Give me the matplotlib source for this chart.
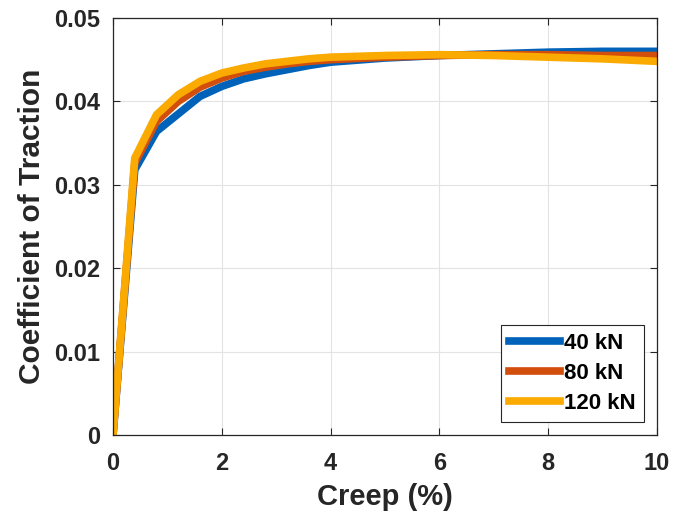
import matplotlib
matplotlib.use("Agg")
import matplotlib.pyplot as plt

# ── data ───────────────────────────────────────────────────────────────────────
creep = [0, 0.4, 0.8, 1.2, 1.6, 2.0, 2.4, 2.8, 3.2, 3.6, 4.0, 5, 6, 7, 8, 9, 10]

mu_40kn  = [0, 0.0318, 0.0364, 0.0385, 0.0406, 0.0418, 0.0427, 0.0433, 0.0438,
            0.0443, 0.0447, 0.0452, 0.0455, 0.0457, 0.0459, 0.0460, 0.0460]
mu_80kn  = [0, 0.0326, 0.0376, 0.0400, 0.0417, 0.0428, 0.0436, 0.0441, 0.0445,
            0.0448, 0.0450, 0.0453, 0.0455, 0.0456, 0.0456, 0.0455, 0.0455]
mu_120kn = [0, 0.0332, 0.0384, 0.0408, 0.0424, 0.0434, 0.0440, 0.0445, 0.0448,
            0.0451, 0.0453, 0.0455, 0.0456, 0.0455, 0.0453, 0.0451, 0.0448]

labels = ["40 kN", "80 kN", "120 kN"]
colors = ["#0062B8", "#D24E0C", "#FAAA00"]

x_ticks = [0, 2, 4, 6, 8, 10]
y_ticks = [0, 0.01, 0.02, 0.03, 0.04, 0.05]
y_tick_labels = ["0", "0.01", "0.02", "0.03", "0.04", "0.05"]

plt.rcParams["font.family"] = ["Liberation Sans", "DejaVu Sans"]
plt.rcParams["font.weight"] = "bold"

fig = plt.figure(figsize=(6.89, 5.21), dpi=100)
ax = fig.add_axes([0.164, 0.165, 0.7895, 0.8005])

for series, lab, col in zip([mu_40kn, mu_80kn, mu_120kn], labels, colors):
    ax.plot(creep, series, color=col, lw=5.5, label=lab, solid_joinstyle="miter")

ax.set_xlim(0, 10)
ax.set_ylim(0, 0.05)
ax.set_xticks(x_ticks)
ax.set_yticks(y_ticks)
ax.set_yticklabels(y_tick_labels)
ax.tick_params(direction="in", top=True, right=True, length=5, width=0.8,
               color="#262626", labelsize=17)
ax.tick_params(axis="x", pad=12)
ax.tick_params(axis="y", pad=9)
for lbl in ax.get_xticklabels() + ax.get_yticklabels():
    lbl.set_fontweight("bold")
    lbl.set_color("#262626")

ax.grid(True, color="#e3e3e3", lw=0.8)
ax.set_axisbelow(True)
for sp in ax.spines.values():
    sp.set_color("#262626")
    sp.set_linewidth(0.9)

ax.set_xlabel("Creep (%)", fontsize=21, fontweight="bold", color="#262626", labelpad=6)
ax.set_ylabel("Coefficient of Traction", fontsize=21.5, fontweight="bold",
              color="#262626", labelpad=6)

leg = ax.legend(loc="lower right", fontsize=16, fancybox=False, framealpha=1,
                edgecolor="#262626", handlelength=2.3, handletextpad=0.2,
                borderaxespad=0.6, borderpad=0.35, labelspacing=0.4)
leg.get_frame().set_linewidth(0.8)
for t in leg.get_texts():
    t.set_fontweight("bold")

plt.savefig("out.png", dpi=100)
plt.close()
